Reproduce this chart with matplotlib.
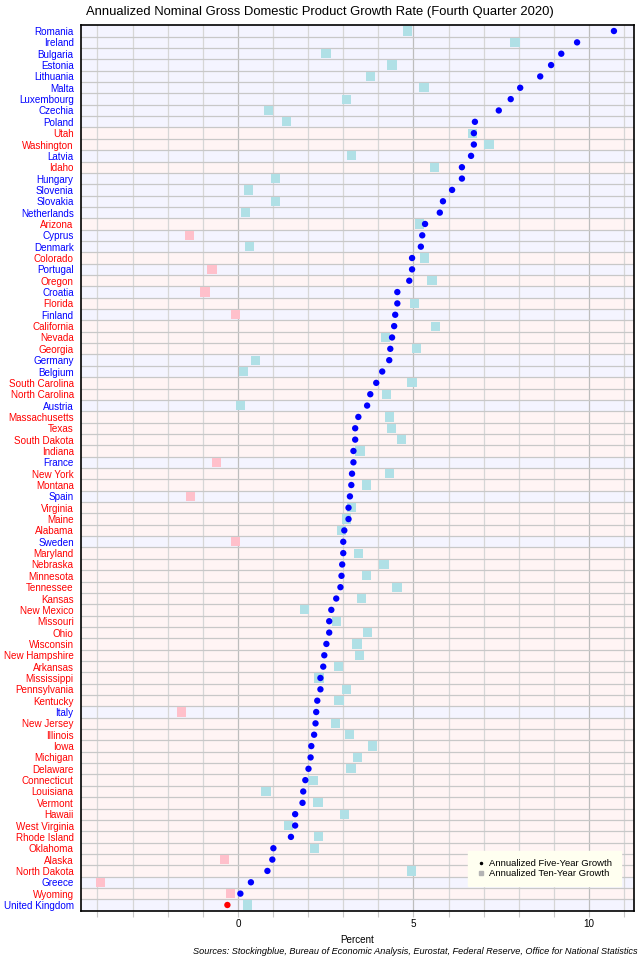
import matplotlib
matplotlib.use("Agg")
import matplotlib.pyplot as plt
from matplotlib.lines import Line2D
import numpy as np

plt.rcParams['font.family'] = ['Liberation Sans', 'DejaVu Sans']

regions = ["Romania", "Ireland", "Bulgaria", "Estonia", "Lithuania", "Malta", "Luxembourg",
           "Czechia", "Poland", "Utah", "Washington", "Latvia", "Idaho", "Hungary", "Slovenia",
           "Slovakia", "Netherlands", "Arizona", "Cyprus", "Denmark", "Colorado", "Portugal",
           "Oregon", "Croatia", "Florida", "Finland", "California", "Nevada", "Georgia",
           "Germany", "Belgium", "South Carolina", "North Carolina", "Austria", "Massachusetts",
           "Texas", "South Dakota", "Indiana", "France", "New York", "Montana", "Spain",
           "Virginia", "Maine", "Alabama", "Sweden", "Maryland", "Nebraska", "Minnesota",
           "Tennessee", "Kansas", "New Mexico", "Missouri", "Ohio", "Wisconsin", "New Hampshire",
           "Arkansas", "Mississippi", "Pennsylvania", "Kentucky", "Italy", "New Jersey",
           "Illinois", "Iowa", "Michigan", "Delaware", "Connecticut", "Louisiana", "Vermont",
           "Hawaii", "West Virginia", "Rhode Island", "Oklahoma", "Alaska", "North Dakota",
           "Greece", "Wyoming", "United Kingdom"]

countries = {"Romania", "Ireland", "Bulgaria", "Estonia", "Lithuania", "Malta", "Luxembourg",
             "Czechia", "Poland", "Latvia", "Hungary", "Slovenia", "Slovakia", "Netherlands",
             "Cyprus", "Denmark", "Portugal", "Croatia", "Finland", "Germany", "Belgium",
             "Austria", "France", "Spain", "Sweden", "Italy", "Greece", "United Kingdom"}

five_year = [10.71, 9.66, 9.21, 8.92, 8.61, 8.04, 7.77, 7.43, 6.75, 6.72, 6.72, 6.64, 6.38,
             6.38, 6.10, 5.84, 5.75, 5.33, 5.25, 5.21, 4.96, 4.96, 4.88, 4.54, 4.54, 4.48,
             4.45, 4.39, 4.34, 4.31, 4.11, 3.94, 3.77, 3.68, 3.43, 3.34, 3.34, 3.29, 3.29,
             3.25, 3.23, 3.19, 3.15, 3.15, 3.03, 3.00, 3.00, 2.97, 2.95, 2.92, 2.80, 2.66,
             2.60, 2.60, 2.52, 2.46, 2.43, 2.35, 2.35, 2.26, 2.23, 2.21, 2.17, 2.09, 2.07,
             2.01, 1.92, 1.86, 1.84, 1.63, 1.63, 1.51, 1.01, 0.98, 0.84, 0.37, 0.07, -0.30]

ten_year = [4.82, 7.89, 2.51, 4.39, 3.77, 5.30, 3.10, 0.88, 1.39, 6.68, 7.15, 3.23, 5.59,
            1.08, 0.29, 1.08, 0.21, 5.17, -1.37, 0.34, 5.31, -0.74, 5.53, -0.94, 5.04, -0.08,
            5.63, 4.20, 5.09, 0.49, 0.15, 4.96, 4.24, 0.08, 4.32, 4.38, 4.65, 3.48, -0.62,
            4.31, 3.67, -1.34, 3.23, 3.10, 2.95, -0.08, 3.43, 4.16, 3.66, 4.53, 3.53, 1.89,
            2.81, 3.68, 3.39, 3.47, 2.87, 2.31, 3.10, 2.88, -1.61, 2.79, 3.18, 3.84, 3.41,
            3.22, 2.14, 0.80, 2.28, 3.03, 1.45, 2.30, 2.18, -0.38, 4.94, -3.91, -0.21, 0.27]

x_ticks = [0, 5, 10]

fig = plt.figure(figsize=(6.4, 9.6), dpi=100)
ax = fig.add_axes([0.126, 0.0514, 0.864, 0.9222])

n = len(regions)
y = np.arange(n)
xmin, xmax = -4.48, 11.27

is_country = [r in countries for r in regions]
bg = ['#f4f4ff' if c else '#fff4f4' for c in is_country]
ax.barh(y, xmax - xmin, left=xmin, height=1.0, color=bg, zorder=0)

# grid
for v in range(-4, 12):
    ax.axvline(v, color='#bdbdbd' if v in x_ticks else '#d6d6d6', lw=0.9, zorder=1)
for yy in np.arange(0.5, n - 0.5, 1.0):
    ax.axhline(yy, color='#c8c8c8', lw=0.9, zorder=1)

ten = np.array(ten_year)
five = np.array(five_year)
sq_col = np.where(ten < 0, '#ffc0cb', '#b0e0e6')
dot_col = np.where(five < 0, '#ff0000', '#0000ff')
ax.scatter(ten, y, marker='s', s=44, c=sq_col, linewidths=0, zorder=3)
ax.scatter(five, y, marker='o', s=21, c=dot_col, linewidths=0, zorder=4)

ax.set_xlim(xmin, xmax)
ax.set_ylim(n - 0.5, -0.5)
ax.set_yticks(y)
ax.set_yticklabels(regions, fontsize=7.1)
for lbl, c in zip(ax.get_yticklabels(), is_country):
    lbl.set_color('#0000ff' if c else '#ff0000')
ax.tick_params(axis='y', length=0, pad=5)
ax.set_xticks(range(-4, 12))
ax.set_xticklabels([str(v) if v in x_ticks else '' for v in range(-4, 12)], fontsize=7.1)
ax.tick_params(axis='x', length=4, color='#c8c8c8', pad=2)
for s in ax.spines.values():
    s.set_color('black')
    s.set_linewidth(1.2)
    s.set_zorder(5)

ax.set_xlabel('Percent', fontsize=7.1, labelpad=4)
fig.text(0.5, 0.987, 'Annualized Nominal Gross Domestic Product Growth Rate (Fourth Quarter 2020)',
         ha='center', va='center', fontsize=9.4)
fig.text(0.997, 0.004, 'Sources: Stockingblue, Bureau of Economic Analysis, Eurostat, Federal Reserve, Office for National Statistics',
         ha='right', va='bottom', fontsize=6.6, style='italic')

handles = [Line2D([], [], marker='.', color='black', linestyle='None', markersize=3),
           Line2D([], [], marker='s', color='#b4b4b4', linestyle='None', markersize=3.5)]
leg = ax.legend(handles, ['Annualized Five-Year Growth', 'Annualized Ten-Year Growth'],
                loc='lower right', bbox_to_anchor=(0.985, 0.022), fontsize=6.8,
                frameon=True, fancybox=False, framealpha=1, handlelength=0.8,
                handletextpad=0.5, labelspacing=0.05, borderpad=0.9)
leg.get_frame().set_facecolor('#fffff0')
leg.get_frame().set_edgecolor('#fffff0')
leg.set_zorder(6)

fig.savefig('out.png', dpi=100)
